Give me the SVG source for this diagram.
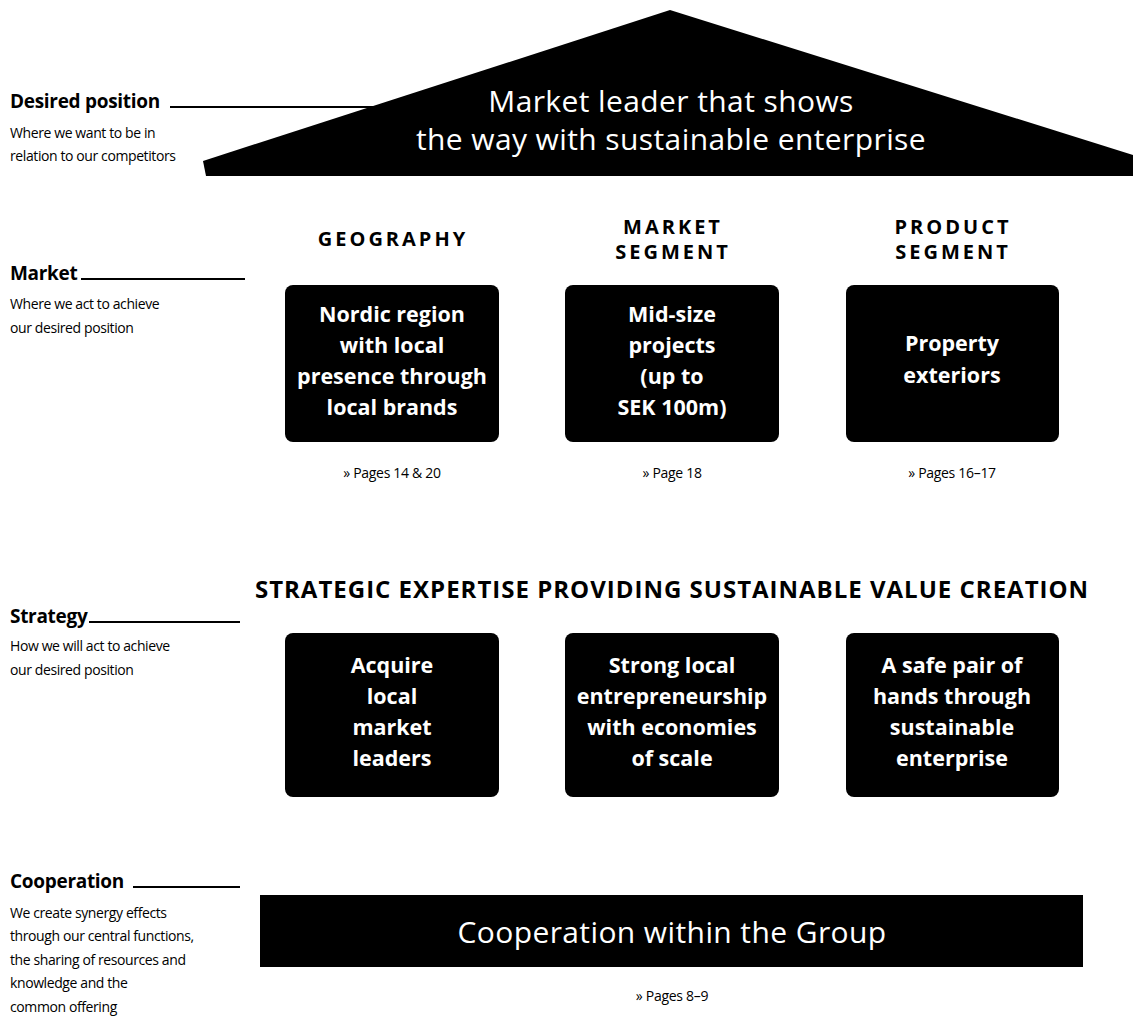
<svg xmlns="http://www.w3.org/2000/svg" width="1133" height="1018" viewBox="0 0 1133 1018">
  <style>
    text { font-family: "Open Sans", "Liberation Sans", sans-serif; fill: #000; }
    .lbl { font-size: 19px; font-weight: 700; letter-spacing: -0.3px; }
    .desc { font-size: 14px; letter-spacing: -0.4px; }
    .head { font-size: 20px; font-weight: 700; text-anchor: middle; letter-spacing: 3px; }
    .box { fill: #000; }
    .bt { font-size: 21.5px; font-weight: 700; fill: #fff; text-anchor: middle; }
    .ref { font-size: 14px; text-anchor: middle; letter-spacing: -0.3px; }
    .big { font-size: 30px; fill: #fff; text-anchor: middle; letter-spacing: 0.4px; }
    .rule { stroke: #000; stroke-width: 2; fill: none; }
  </style>

  <!-- roof: desired position -->
  <g id="roof">
    <polygon class="box" points="203,161 670,10 1133,155 1133,176 206,176"/>
    <text class="big" x="671" y="112">Market leader that shows</text>
    <text class="big" x="671" y="150">the way with sustainable enterprise</text>
  </g>

  <!-- connectors: leader lines from the side labels -->
  <g id="connectors">
    <line class="rule" x1="170" y1="107" x2="376" y2="107"/>
    <line class="rule" x1="81" y1="279" x2="245" y2="279"/>
    <line class="rule" x1="89" y1="622" x2="240" y2="622"/>
    <line class="rule" x1="133" y1="887" x2="240" y2="887"/>
  </g>

  <!-- side labels -->
  <g id="label-desired">
    <text class="lbl" x="10" y="108">Desired position</text>
    <text class="desc" x="10" y="138">Where we want to be in</text>
    <text class="desc" x="10" y="161">relation to our competitors</text>
  </g>
  <g id="label-market">
    <text class="lbl" x="10" y="280">Market</text>
    <text class="desc" x="10" y="309">Where we act to achieve</text>
    <text class="desc" x="10" y="333">our desired position</text>
  </g>
  <g id="label-strategy">
    <text class="lbl" x="10" y="623">Strategy</text>
    <text class="desc" x="10" y="651">How we will act to achieve</text>
    <text class="desc" x="10" y="675">our desired position</text>
  </g>
  <g id="label-cooperation">
    <text class="lbl" x="10" y="888">Cooperation</text>
    <text class="desc" x="10" y="918">We create synergy effects</text>
    <text class="desc" x="10" y="941">through our central functions,</text>
    <text class="desc" x="10" y="965">the sharing of resources and</text>
    <text class="desc" x="10" y="988">knowledge and the</text>
    <text class="desc" x="10" y="1012">common offering</text>
  </g>

  <!-- market column headings -->
  <g id="head-geography"><text class="head" x="393" y="246">GEOGRAPHY</text></g>
  <g id="head-market-segment">
    <text class="head" x="673" y="234">MARKET</text>
    <text class="head" x="673" y="259">SEGMENT</text>
  </g>
  <g id="head-product-segment">
    <text class="head" x="953" y="234">PRODUCT</text>
    <text class="head" x="953" y="259">SEGMENT</text>
  </g>

  <!-- market boxes -->
  <g id="market-geography">
    <rect class="box" x="285" y="285" width="214" height="157" rx="8"/>
    <text class="bt" x="392" y="322">Nordic region</text>
    <text class="bt" x="392" y="353">with local</text>
    <text class="bt" x="392" y="384">presence through</text>
    <text class="bt" x="392" y="415">local brands</text>
    <text class="ref" x="392" y="478">» Pages 14 &amp; 20</text>
  </g>
  <g id="market-segment">
    <rect class="box" x="565" y="285" width="214" height="157" rx="8"/>
    <text class="bt" x="672" y="322">Mid-size</text>
    <text class="bt" x="672" y="353">projects</text>
    <text class="bt" x="672" y="384">(up to</text>
    <text class="bt" x="672" y="415">SEK 100m)</text>
    <text class="ref" x="672" y="478">» Page 18</text>
  </g>
  <g id="product-segment">
    <rect class="box" x="846" y="285" width="213" height="157" rx="8"/>
    <text class="bt" x="952" y="351">Property</text>
    <text class="bt" x="952" y="383">exteriors</text>
    <text class="ref" x="952" y="478">» Pages 16–17</text>
  </g>

  <!-- strategy -->
  <g id="head-strategy">
    <text x="672" y="598" font-size="24" font-weight="700" text-anchor="middle" letter-spacing="1">STRATEGIC EXPERTISE PROVIDING SUSTAINABLE VALUE CREATION</text>
  </g>
  <g id="strategy-acquire">
    <rect class="box" x="285" y="633" width="214" height="164" rx="8"/>
    <text class="bt" x="392" y="673">Acquire</text>
    <text class="bt" x="392" y="704">local</text>
    <text class="bt" x="392" y="735">market</text>
    <text class="bt" x="392" y="766">leaders</text>
  </g>
  <g id="strategy-entrepreneurship">
    <rect class="box" x="565" y="633" width="214" height="164" rx="8"/>
    <text class="bt" x="672" y="673">Strong local</text>
    <text class="bt" x="672" y="704">entrepreneurship</text>
    <text class="bt" x="672" y="735">with economies</text>
    <text class="bt" x="672" y="766">of scale</text>
  </g>
  <g id="strategy-safe-hands">
    <rect class="box" x="846" y="633" width="213" height="164" rx="8"/>
    <text class="bt" x="952" y="673">A safe pair of</text>
    <text class="bt" x="952" y="704">hands through</text>
    <text class="bt" x="952" y="735">sustainable</text>
    <text class="bt" x="952" y="766">enterprise</text>
  </g>

  <!-- cooperation base -->
  <g id="cooperation">
    <rect class="box" x="260" y="895" width="823" height="72"/>
    <text class="big" x="672" y="943">Cooperation within the Group</text>
    <text class="ref" x="672" y="1001">» Pages 8–9</text>
  </g>
</svg>
